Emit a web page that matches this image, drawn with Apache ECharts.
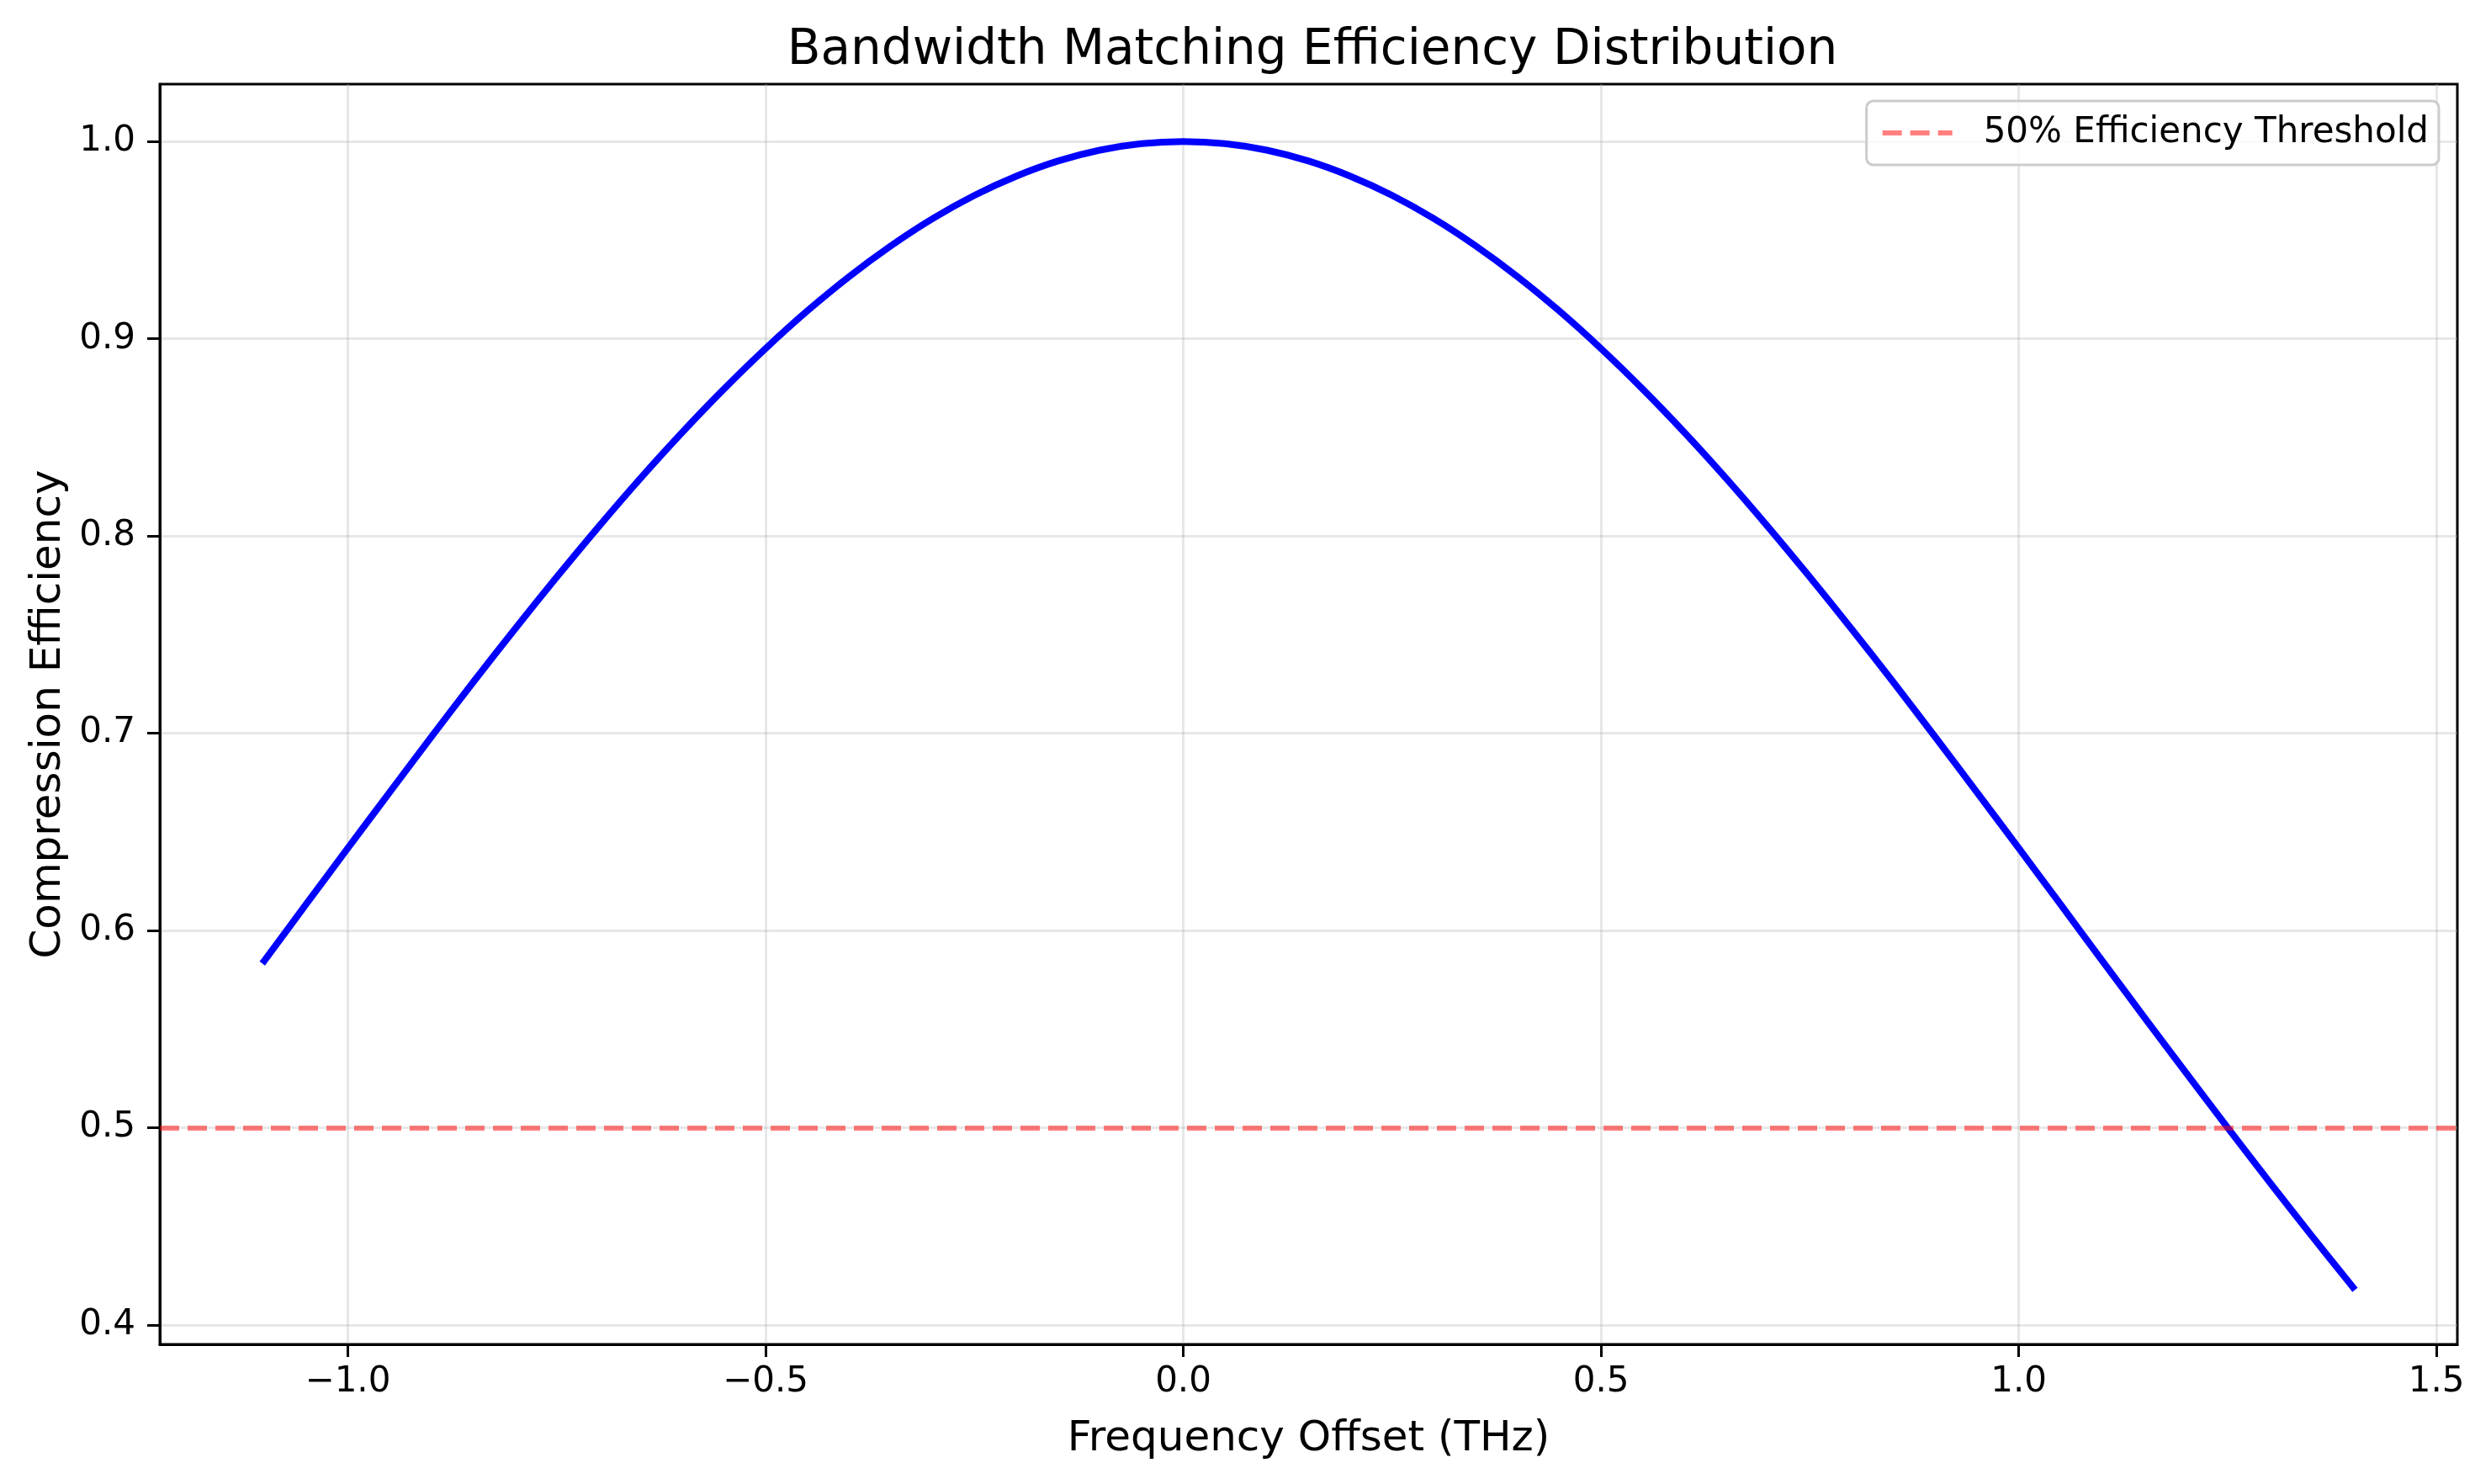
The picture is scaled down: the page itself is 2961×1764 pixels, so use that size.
<!DOCTYPE html>
<html>
<head>
<meta charset="utf-8">
<script src="https://cdn.jsdelivr.net/npm/echarts@6/dist/echarts.min.js"></script>
<style>
html,body{margin:0;padding:0;background:#fff;}
#chart{width:2961px;height:1764px;}
</style>
</head>
<body>
<div id="chart"></div>
<script>
// Frequency offset (THz)
const freqOffset = [
  -1.10,-1.05,-1.00,-0.95,-0.90,-0.85,-0.80,-0.75,-0.70,-0.65,-0.60,-0.55,-0.50,-0.45,-0.40,-0.35,-0.30,-0.25,-0.20,-0.15,-0.10,-0.05,
  0.00,0.05,0.10,0.15,0.20,0.25,0.30,0.35,0.40,0.45,0.50,0.55,0.60,0.65,0.70,0.75,0.80,0.85,0.90,0.95,1.00,1.05,1.10,1.15,1.20,1.25,1.30,1.35,1.40
];
// Compression efficiency at each offset (estimated from the curve)
const efficiency = [
  0.5846,0.6132,0.6417,0.6700,0.6981,0.7258,0.7528,0.7791,0.8046,0.8291,0.8524,0.8744,0.8950,0.9141,0.9315,0.9471,0.9609,0.9727,0.9824,0.9901,0.9956,0.9989,
  1.0000,0.9989,0.9956,0.9901,0.9824,0.9727,0.9609,0.9471,0.9315,0.9141,0.8950,0.8744,0.8524,0.8291,0.8046,0.7791,0.7528,0.7258,0.6981,0.6700,0.6417,0.6132,0.5846,0.5561,0.5279,0.5000,0.4725,0.4455,0.4191
];
const thresholdValue = 0.5;
const xTicks = [-1.0, -0.5, 0.0, 0.5, 1.0, 1.5];
const yTicks = [0.4, 0.5, 0.6, 0.7, 0.8, 0.9, 1.0];
const titleText = 'Bandwidth Matching Efficiency Distribution';
const xLabel = 'Frequency Offset (THz)';
const yLabel = 'Compression Efficiency';
const thresholdName = '50% Efficiency Threshold';

const FONT = 'DejaVu Sans';
const fmt = v => (v < 0 ? '\u2212' + Math.abs(v).toFixed(1) : v.toFixed(1));
const curve = freqOffset.map((x, i) => [x, efficiency[i]]);
const redStyle = { color: 'rgba(255,0,0,0.5)', width: 6, type: [23, 10], cap: 'butt' };

const chart = echarts.init(document.getElementById('chart'), null, { renderer: 'canvas' });
chart.setOption({
  animation: false,
  backgroundColor: '#ffffff',
  title: {
    text: titleText,
    left: 1555, textAlign: 'center',
    top: 27,
    textStyle: { fontFamily: FONT, fontSize: 58, fontWeight: 'normal', color: '#000' }
  },
  legend: {
    data: [thresholdName],
    right: 62, top: 120,
    orient: 'vertical',
    padding: [17, 12, 17, 16],
    itemWidth: 83, itemHeight: 20,
    backgroundColor: 'rgba(255,255,255,0.8)',
    borderColor: '#cccccc', borderWidth: 3, borderRadius: 8,
    itemStyle: { opacity: 0 },
    lineStyle: { color: 'rgba(255,0,0,0.5)', width: 6, type: [23, 10], cap: 'butt' },
    textStyle: { fontFamily: FONT, fontSize: 42, color: '#000', padding: [0, 0, 0, 32], lineHeight: 42 }
  },
  grid: {
    left: 190, right: 40, top: 100, bottom: 166,
    show: true, borderColor: '#000', borderWidth: 3, backgroundColor: 'transparent'
  },
  xAxis: {
    type: 'value', min: -1.225, max: 1.525,
    name: xLabel, nameLocation: 'middle', nameGap: 88,
    nameTextStyle: { fontFamily: FONT, fontSize: 50, color: '#000' },
    axisLine: { show: true, onZero: false, lineStyle: { color: '#000', width: 3 } },
    axisTick: { show: true, length: 15, lineStyle: { color: '#000', width: 3 }, customValues: xTicks },
    axisLabel: { fontFamily: FONT, fontSize: 42, color: '#000', margin: 24, formatter: fmt, customValues: xTicks },
    splitLine: { show: true, lineStyle: { color: 'rgba(176,176,176,0.3)', width: 3 } }
  },
  yAxis: {
    type: 'value', min: 0.3901, max: 1.0291,
    name: yLabel, nameLocation: 'middle', nameGap: 102,
    nameTextStyle: { fontFamily: FONT, fontSize: 50, color: '#000' },
    axisLine: { show: true, onZero: false, lineStyle: { color: '#000', width: 3 } },
    axisTick: { show: true, length: 15, lineStyle: { color: '#000', width: 3 }, customValues: yTicks },
    axisLabel: { fontFamily: FONT, fontSize: 42, color: '#000', margin: 29, formatter: fmt, customValues: yTicks },
    splitLine: { show: true, lineStyle: { color: 'rgba(176,176,176,0.3)', width: 3 } }
  },
  series: [
    {
      name: 'Efficiency', type: 'line', data: curve,
      symbol: 'none', smooth: 0.3, z: 3,
      lineStyle: { color: '#0000ff', width: 8, cap: 'square', join: 'round' }
    },
    {
      name: thresholdName, type: 'line', data: [], symbol: 'none', showSymbol: false, z: 2,
      lineStyle: redStyle, itemStyle: { color: 'rgba(255,0,0,0.5)' },
      markLine: {
        silent: true, symbol: ['none', 'none'],
        label: { show: false },
        lineStyle: redStyle,
        data: [{ yAxis: thresholdValue }]
      }
    }
  ]
});
</script>
</body>
</html>
